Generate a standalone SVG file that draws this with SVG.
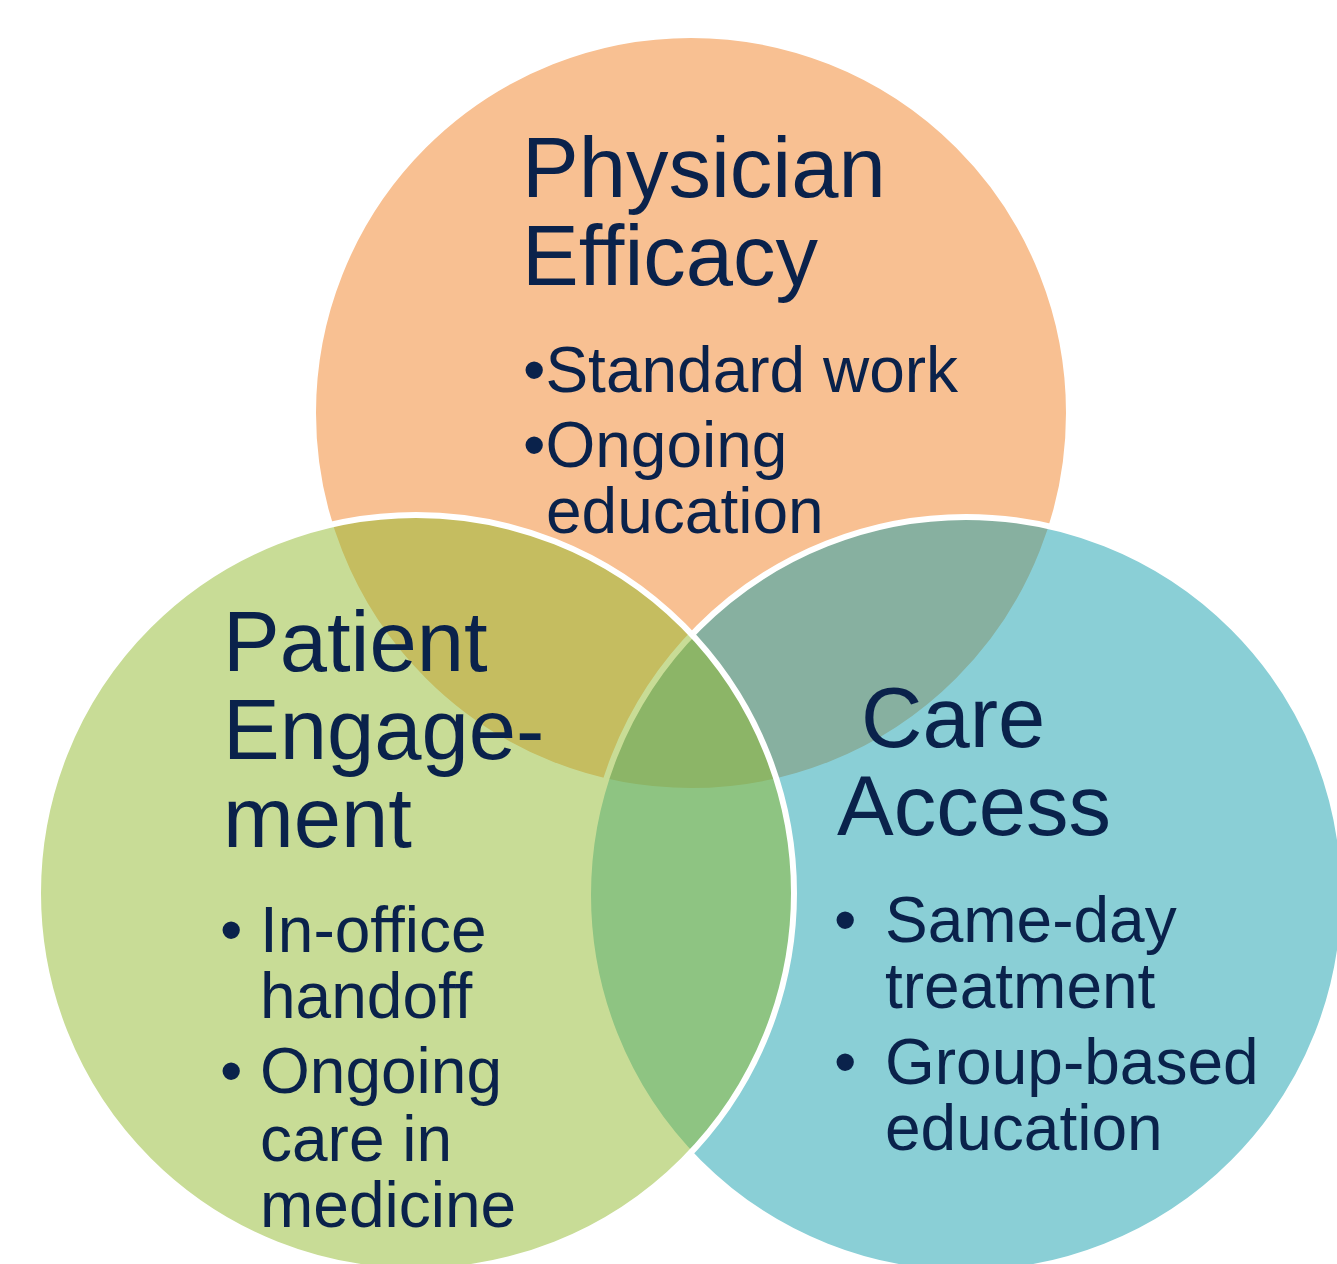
<svg xmlns="http://www.w3.org/2000/svg" width="1337" height="1264" viewBox="0 0 1337 1264">
  <style>
    .ring { stroke: #ffffff; stroke-width: 6; fill-opacity: 0.5; }
    .title { font-family: "Liberation Sans", Arial, sans-serif; font-size: 85px; fill: #0A224B; }
    .item { font-family: "Liberation Sans", Arial, sans-serif; font-size: 64px; fill: #0A224B; }
  </style>
  <rect width="1337" height="1264" fill="#ffffff"/>

  <!-- Physician Efficacy (top) -->
  <g id="physician-efficacy">
    <circle class="ring" cx="691" cy="413" r="378" fill="rgb(241,129,37)"/>
    <text class="title" x="522" y="197">Physician</text>
    <text class="title" x="522" y="285">Efficacy</text>
    <text class="item" x="523" y="392">•Standard work</text>
    <text class="item" x="523" y="467">•Ongoing</text>
    <text class="item" x="546" y="533">education</text>
  </g>

  <!-- Care Access (bottom right) -->
  <g id="care-access">
    <circle class="ring" cx="966" cy="895" r="378" fill="rgb(21,159,173)"/>
    <text class="title" x="861" y="747">Care</text>
    <text class="title" x="837" y="835">Access</text>
    <text class="item" x="834" y="942">•</text>
    <text class="item" x="885" y="942">Same-day</text>
    <text class="item" x="885" y="1008">treatment</text>
    <text class="item" x="834" y="1084">•</text>
    <text class="item" x="885" y="1084">Group-based</text>
    <text class="item" x="885" y="1150">education</text>
  </g>

  <!-- Patient Engagement (bottom left) -->
  <g id="patient-engagement">
    <circle class="ring" cx="416" cy="893" r="378" fill="rgb(145,185,45)"/>
    <text class="title" x="223" y="671">Patient</text>
    <text class="title" x="223" y="759">Engage-</text>
    <text class="title" x="223" y="847">ment</text>
    <text class="item" x="220" y="952">•</text>
    <text class="item" x="260" y="952">In-office</text>
    <text class="item" x="260" y="1018">handoff</text>
    <text class="item" x="220" y="1093">•</text>
    <text class="item" x="260" y="1093">Ongoing</text>
    <text class="item" x="260" y="1161">care in</text>
    <text class="item" x="260" y="1227">medicine</text>
  </g>
</svg>
